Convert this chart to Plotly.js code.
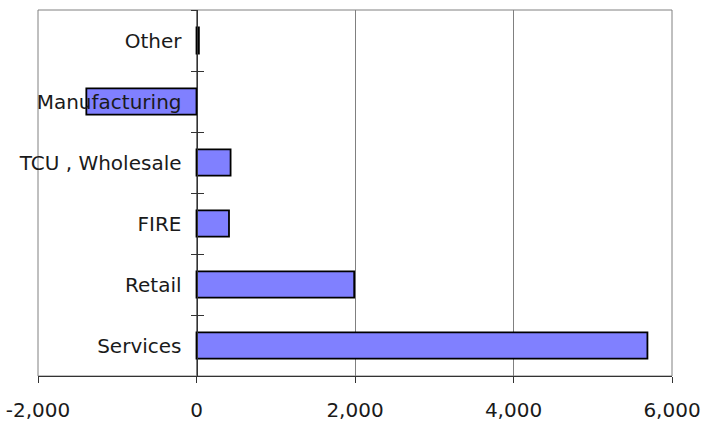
<!DOCTYPE html>
<html>
<head>
<meta charset="utf-8">
<script src="https://cdn.plot.ly/plotly-3.0.1.min.js"></script>
<style>
  html, body { margin: 0; padding: 0; background: #ffffff; }
  #chart { width: 701px; height: 422px; }
</style>
</head>
<body>
<div id="chart"></div>
<script>
// Employment change by industry (bottom category first, as Plotly stacks them upward)
const categories = ['Services', 'Retail', 'FIRE', 'TCU , Wholesale', 'Manufacturing', 'Other'];
const changes = [5690, 1990, 410, 430, -1390, 30];
const xTickValues = [-2000, 0, 2000, 4000, 6000];
const xTickLabels = ['-2,000', '0', '2,000', '4,000', '6,000'];

const labelFont = { family: 'DejaVu Sans, Verdana, sans-serif', size: 20, color: '#1a1a1a' };
const xMin = -2000, xMax = 6000;
// the category axis sits where x = 0 crosses the plot
const zeroPos = (0 - xMin) / (xMax - xMin);

const bars = {
  type: 'bar',
  orientation: 'h',
  x: changes,
  y: categories,
  marker: { color: '#8080ff', line: { color: '#000000', width: 1.8 } },
  width: 0.43,
  hoverinfo: 'x+y'
};

// invisible companion trace so the second category axis draws the inner half of the ticks
const tickHelper = {
  type: 'bar',
  orientation: 'h',
  x: categories.map(() => 0),
  y: categories,
  yaxis: 'y2',
  marker: { color: 'rgba(0,0,0,0)' },
  hoverinfo: 'skip',
  showlegend: false
};

const layout = {
  width: 701,
  height: 422,
  margin: { l: 38, r: 29, t: 10, b: 46 },
  paper_bgcolor: '#ffffff',
  plot_bgcolor: '#ffffff',
  showlegend: false,
  xaxis: {
    range: [xMin, xMax],
    tickvals: xTickValues,
    ticktext: xTickLabels,
    showgrid: true,
    gridcolor: '#808080',
    gridwidth: 1,
    zeroline: false,
    showline: true,
    linecolor: '#333333',
    linewidth: 1,
    ticks: 'outside',
    ticklen: 6,
    tickcolor: '#333333',
    tickfont: labelFont,
    ticklabelstandoff: 10,
    fixedrange: true
  },
  yaxis: {
    type: 'category',
    categoryorder: 'array',
    categoryarray: categories,
    anchor: 'free',
    position: zeroPos,
    showline: true,
    linecolor: '#333333',
    linewidth: 1,
    showgrid: false,
    zeroline: false,
    ticks: 'outside',
    tickson: 'boundaries',
    ticklen: 6,
    tickcolor: '#333333',
    tickfont: labelFont,
    ticklabelstandoff: 11,
    fixedrange: true
  },
  yaxis2: {
    type: 'category',
    categoryorder: 'array',
    categoryarray: categories,
    overlaying: 'y',
    matches: 'y',
    anchor: 'free',
    position: zeroPos,
    side: 'left',
    showline: false,
    showgrid: false,
    zeroline: false,
    ticks: 'inside',
    tickson: 'boundaries',
    ticklen: 6,
    tickcolor: '#333333',
    showticklabels: false,
    fixedrange: true
  },
  shapes: [
    // plot frame
    { type: 'rect', xref: 'paper', yref: 'paper', x0: 0, x1: 1, y0: 0, y1: 1,
      line: { color: '#808080', width: 1 }, layer: 'below' }
  ]
};

Plotly.newPlot('chart', [bars, tickHelper], layout, { displayModeBar: false, staticPlot: true });
</script>
</body>
</html>
